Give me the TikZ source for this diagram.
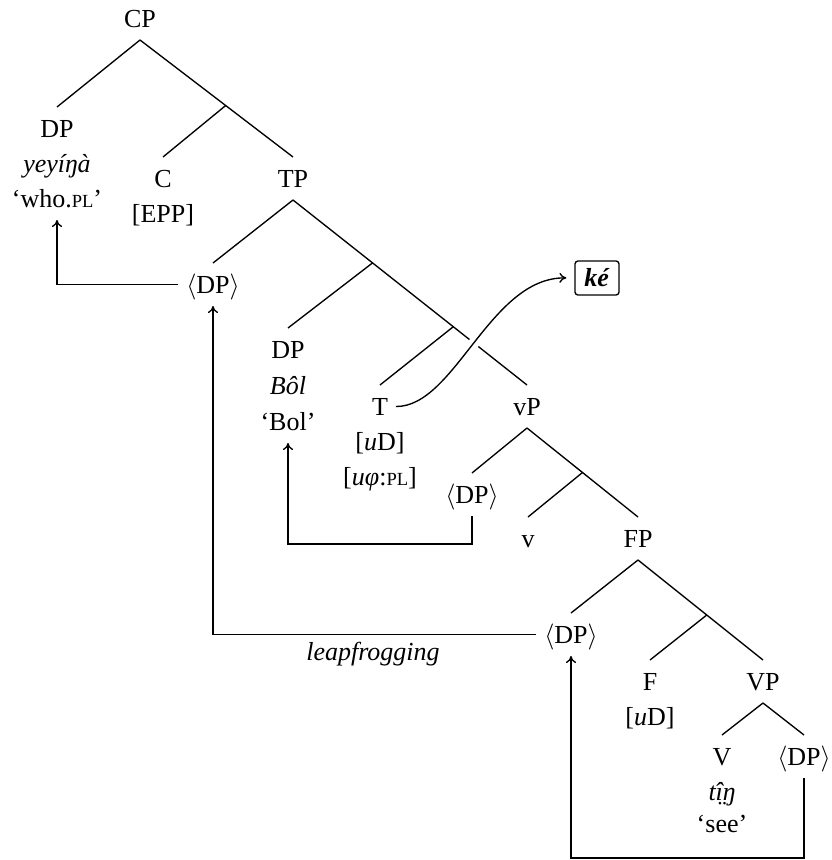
\RequirePackage{fix-cm}
\documentclass[tikz,border=0pt]{standalone}
\usepackage{fontspec}
\setmainfont{Liberation Serif}
\usetikzlibrary{calc,arrows.meta}
\newcommand\fsc[1]{{\fontsize{18.5}{18.5}\selectfont #1}}
\begin{document}
\begin{tikzpicture}[x=1pt,y=-1pt,
  every node/.style={font=\fontsize{26}{26}\selectfont},
  cat/.style={inner xsep=8pt, inner ysep=13pt, text height=17pt, text depth=0pt, anchor=base, outer sep=0pt},
  sub/.style={cat},
  tree/.style={line width=1.35pt},
  mv/.style={line width=1.35pt, -{To[length=7pt,width=10pt]}},
]
\useasboundingbox (0,0) rectangle (831,860);
% nodes
\node[cat] (cp) at (140,27) {CP};
\node[cat] (dpw) at (57,137) {DP};
\node[sub] (dpw1) at (57,172) {\textit{yeyíŋà}};
\node[sub] (dpw2) at (57,207) {`who.\fsc{PL}'};
\node[cat] (c) at (163,187) {C};
\node[sub] (c1) at (163,222) {[EPP]};
\node[cat] (tp) at (293,187) {TP};
\node[cat] (dp1) at (213,293) {$\langle$DP$\rangle$};
\node[cat] (dpb) at (288,358) {DP};
\node[sub] (dpb1) at (288,394) {\textit{Bôl}};
\node[sub] (dpb2) at (288,430) {`Bol'};
\node[cat] (t) at (380,415) {T};
\node[sub] (t1) at (380,450) {[\textit{u}D]};
\node[sub] (t2) at (380,485) {[\textit{uφ}:\fsc{PL}]};
\node[cat] (vp) at (527,415) {vP};
\node[cat] (dp2) at (472,503) {$\langle$DP$\rangle$};
\node[cat] (v) at (528,547) {v};
\node[cat] (fp) at (638,547) {FP};
\node[cat] (dp3) at (571,643) {$\langle$DP$\rangle$};
\node[cat] (f) at (650,690) {F};
\node[sub] (f1) at (650,725) {[\textit{u}D]};
\node[cat] (vvp) at (763,690) {VP};
\node[cat] (vv) at (722,765) {V};
\node[sub] (vv1) at (722,800) {\textit{t^^^^00ee^^^^0324^^^^014b}};
\node[sub] (vv2) at (722,832) {`see'};
\node[cat] (dp4) at (804,765) {$\langle$DP$\rangle$};
\node[draw, line width=1.35pt, rounded corners=3pt, inner sep=0pt, minimum width=44pt, minimum height=34pt, text height=17pt, text depth=0pt] (ke) at (597,278) {\textbf{\textit{ké}}};
\node[font=\fontsize{26}{26}\selectfont\itshape, anchor=base] (leap) at (373,660) {leapfrogging};
% junctions
\coordinate (cbar) at ($(cp.south)!0.56!(tp.north)$);
\coordinate (tbar) at ($(tp.south)!0.34!(vp.north)$);
\coordinate (tbar2) at ($(tp.south)!0.685!(vp.north)$);
\coordinate (vbar) at ($(vp.south)!0.5!(fp.north)$);
\coordinate (fbar) at ($(fp.south)!0.55!(vvp.north)$);
\coordinate (low) at (0,858);
\coordinate (mid) at (0,544);
% tree
\draw[tree] (cp.south) -- (dpw.north);
\draw[tree] (cp.south) -- (tp.north);
\draw[tree] (cbar) -- (c.north);
\draw[tree] (tp.south) -- (dp1.north);
\draw[tree] (tp.south) -- (vp.north);
\draw[tree] (tbar) -- (dpb.north);
\draw[tree] (tbar2) -- (t.north);
\draw[tree] (vp.south) -- (dp2.north);
\draw[tree] (vp.south) -- (fp.north);
\draw[tree] (vbar) -- (v.north);
\draw[tree] (fp.south) -- (dp3.north);
\draw[tree] (fp.south) -- (vvp.north);
\draw[tree] (fbar) -- (f.north);
\draw[tree] (vvp.south) -- (vv.north);
\draw[tree] (vvp.south) -- (dp4.north);
% head movement curve
\draw[mv, shorten >=8pt, preaction={draw=white, line width=11pt, -, shorten >=8pt}] (t.east) .. controls (455,407) and (490,277) .. (ke.west);
% movement arrows
\draw[mv] (dp4.south) -- (dp4.south |- low) -| (dp3.south);
\draw[mv] (dp3.west) -| (dp1.south);
\draw[mv] (dp2.south) -- (dp2.south |- mid) -| (dpb2.south);
\draw[mv] (dp1.west) -| (dpw2.south);
\end{tikzpicture}
\end{document}
